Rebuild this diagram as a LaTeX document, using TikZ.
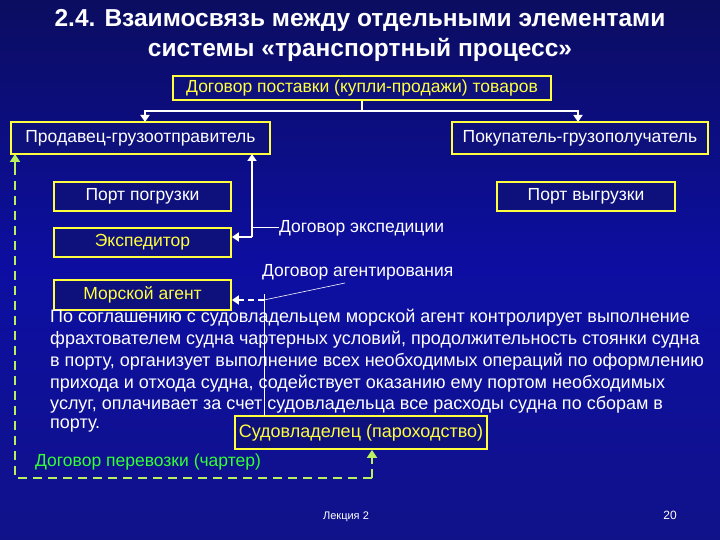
\documentclass[tikz,border=0pt]{standalone}
\usepackage{fontspec}
\setmainfont{Liberation Sans}
\usetikzlibrary{arrows.meta}
\definecolor{bg}{HTML}{10128A}
\definecolor{yel}{HTML}{FFFF40}
\definecolor{grn}{HTML}{33FF33}
\definecolor{lgrn}{HTML}{B8F060}
\begin{document}
\begin{tikzpicture}[x=1pt,y=-1pt,
 box/.style={draw=yel,line width=1.8pt,fill=bg!90!black,text=white,font=\fontsize{17.5}{20}\selectfont,inner sep=0pt},
 conn/.style={white,line width=2pt,-{Triangle[width=9pt,length=7pt]}},
 lbl/.style={text=white,font=\fontsize{17.5}{20}\selectfont,anchor=west,inner sep=0pt},
 body/.style={text=white,font=\fontsize{18}{20}\selectfont,anchor=west,inner sep=0pt},
 gdash/.style={lgrn,line width=2.4pt,dash pattern=on 9pt off 6pt}]
\shade[top color=bg!70!black,bottom color=bg,middle color=bg!80!blue] (0,0) rectangle (720,540);
\useasboundingbox (0,0) rectangle (720,540);
\node[text=white,font=\bfseries\fontsize{24.5}{30}\selectfont,align=center] (title) at (360,35) {2.4. Взаимосвязь между отдельными элементами\\системы «транспортный процесс»};
\node[box,minimum width=378pt,minimum height=24pt,text=yel] (top) at (362,88) {Договор поставки (купли-продажи) товаров};
\node[box,minimum width=259pt,minimum height=32pt] (sel) at (140.5,138) {Продавец-грузоотправитель};
\node[box,minimum width=256pt,minimum height=32pt] (buy) at (580,138) {Покупатель-грузополучатель};
\node[box,minimum width=177pt,minimum height=29pt] (pl) at (142.5,196.5) {Порт погрузки};
\node[box,minimum width=178pt,minimum height=29pt] (pu) at (586,196.5) {Порт выгрузки};
\node[box,minimum width=177pt,minimum height=29pt,text=yel] (exp) at (142.5,242.5) {Экспедитор};
\node[box,minimum width=177pt,minimum height=30pt,text=yel] (ag) at (142.5,295) {Морской агент};
\node[box,minimum width=252pt,minimum height=33pt,text=yel,font=\fontsize{18}{20}\selectfont] (own) at (361,432.5) {Судовладелец (пароходство)};
% top tree
\coordinate (j) at (362,111);
\draw[white,line width=2pt] (top.south) -- (j);
\draw[conn] (j) -| (145,122);
\draw[conn] (j) -| (578,122);
% expedition
\coordinate (ej) at (252,237);
\draw[conn] (ej) -- (252,154);
\draw[conn] (ej) -- (exp.east |- ej);
\node[lbl] (dex) at (279,228) {Договор экспедиции};
\draw[white,line width=1pt] (252,228) -- (dex.west);
% agent
\node[lbl] (dag) at (262,272) {Договор агентирования};
\coordinate (aj) at (264,300);
\draw[white,line width=2pt,dash pattern=on 6pt off 4pt,-{Triangle[width=9pt,length=7pt]}] (aj) -- (ag.east |- aj);
\draw[white,line width=0.6pt] (aj) -- (345,283);
\draw[white,line width=1pt] (264,294) -- (264,416);
% body text
\node[body] (b1) at (50,318) {По соглашению с судовладельцем морской агент контролирует выполнение};
\node[body] (b2) at (50,340) {фрахтователем судна чартерных условий, продолжительность стоянки судна};
\node[body] (b3) at (50,362) {в порту, организует выполнение всех необходимых операций по оформлению};
\node[body] (b4) at (50,384) {прихода и отхода судна, содействует оказанию ему портом необходимых};
\node[body] (b5) at (50,405) {услуг, оплачивает за счет судовладельца все расходы судна по сборам в};
\node[body] (b6) at (50,426) {порту.};
% charter
\node[lbl,text=grn] (ch) at (35,462) {Договор перевозки (чартер)};
\coordinate (c1) at (15,478);
\coordinate (c2) at (372,478);
\draw[gdash] (c2) -- (c1) -- (15,168);
\draw[lgrn,line width=2.4pt,-{Triangle[width=10pt,length=8pt]}] (15,168) -- (15,154);
\draw[gdash] (c2) -- (372,464);
\draw[lgrn,line width=2.4pt,-{Triangle[width=10pt,length=8pt]}] (372,464) -- (own.south -| 372,0);
\node[text=white,font=\fontsize{11}{12}\selectfont] (lec) at (346,517) {Лекция 2};
\node[text=white,font=\fontsize{12}{14}\selectfont] (pg) at (670,515) {20};
\end{tikzpicture}
\end{document}
